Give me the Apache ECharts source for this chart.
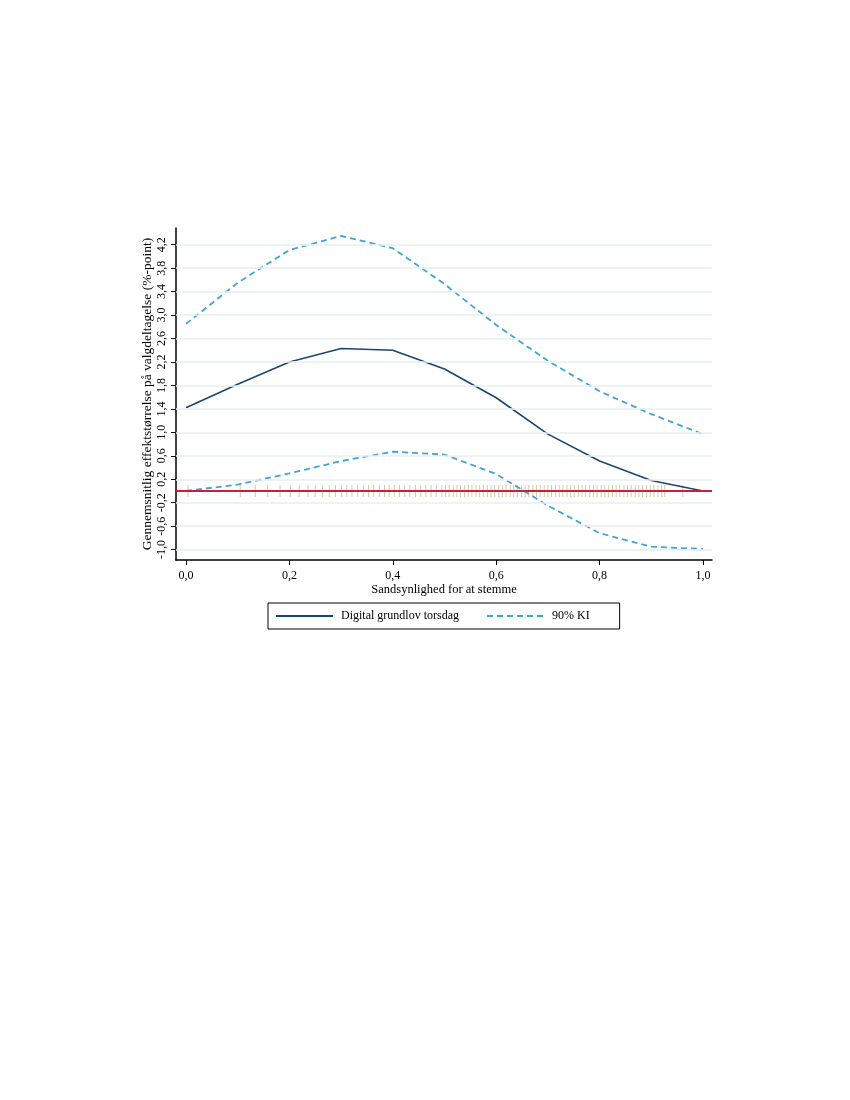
<!DOCTYPE html>
<html>
<head>
<meta charset="utf-8">
<script src="https://cdn.jsdelivr.net/npm/echarts@6/dist/echarts.min.js"></script>
<style>
html,body{margin:0;padding:0;background:#fff;}
#c{width:850px;height:1100px;}
</style>
</head>
<body>
<div id="c"></div>
<script>
// ---- data ----
const xValues = [0, 0.1, 0.2, 0.3, 0.4, 0.5, 0.6, 0.7, 0.8, 0.9, 1.0];
const effect = [1.42, 1.82, 2.20, 2.43, 2.40, 2.08, 1.59, 0.97, 0.51, 0.18, 0.00];
const upperCI = [2.85, 3.55, 4.11, 4.35, 4.14, 3.53, 2.83, 2.22, 1.70, 1.31, 0.97];
const lowerCI = [0.00, 0.11, 0.30, 0.51, 0.67, 0.62, 0.29, -0.25, -0.72, -0.95, -0.99];
const rugX = [0.004, 0.105, 0.134, 0.158, 0.182, 0.202, 0.219, 0.236, 0.250, 0.264,
  0.277, 0.289, 0.301, 0.311, 0.321, 0.332, 0.343, 0.353, 0.363, 0.374,
  0.384, 0.393, 0.403, 0.413, 0.423, 0.433, 0.444, 0.454, 0.464, 0.474,
  0.484, 0.495, 0.502, 0.509, 0.517, 0.524, 0.531, 0.539, 0.546, 0.553,
  0.561, 0.568, 0.575, 0.583, 0.590, 0.597, 0.605, 0.612, 0.619, 0.627,
  0.634, 0.641, 0.649, 0.656, 0.663, 0.671, 0.678, 0.685, 0.693, 0.700,
  0.707, 0.715, 0.722, 0.729, 0.737, 0.744, 0.751, 0.759, 0.766, 0.773,
  0.781, 0.788, 0.795, 0.803, 0.810, 0.817, 0.825, 0.832, 0.839, 0.847,
  0.854, 0.861, 0.869, 0.876, 0.883, 0.891, 0.898, 0.905, 0.913, 0.920,
  0.926, 0.961];
const xTicks = [0, 0.2, 0.4, 0.6, 0.8, 1.0];
const yTicks = [-1.0, -0.6, -0.2, 0.2, 0.6, 1.0, 1.4, 1.8, 2.2, 2.6, 3.0, 3.4, 3.8, 4.2];
const seriesNames = ['Digital grundlov torsdag', '90% KI'];
const xTitle = 'Sandsynlighed for at stemme';
const yTitle = 'Gennemsnitlig effektstørrelse på valgdeltagelse (%-point)';

// ---- chart ----
const FONT = '"Liberation Serif", "DejaVu Serif", serif';
const fmt = v => Number(v).toFixed(1).replace('.', ',');
const pair = arr => xValues.map((x, i) => [x, arr[i]]);

const chart = echarts.init(document.getElementById('c'), null, {renderer: 'canvas'});
chart.setOption({
  animation: false,
  backgroundColor: '#fff',
  grid: {left: 176, right: 138, top: 228, bottom: 540, containLabel: false},
  xAxis: {
    type: 'value', min: -0.0193, max: 1.0174,
    name: xTitle, nameLocation: 'middle', nameGap: 23,
    nameTextStyle: {fontFamily: FONT, fontSize: 12.5, color: '#000'},
    axisLine: {show: true, onZero: false, lineStyle: {color: '#000', width: 1.5}},
    axisTick: {show: true, length: 5, customValues: xTicks, lineStyle: {color: '#000', width: 1}},
    axisLabel: {customValues: xTicks, formatter: fmt, margin: 10, fontFamily: FONT, fontSize: 12, color: '#000'},
    splitLine: {show: false}
  },
  yAxis: {
    type: 'value', min: -1.177, max: 4.485,
    name: yTitle, nameLocation: 'middle', nameGap: 22, nameRotate: 90,
    nameMoveOverlap: false,
    nameTextStyle: {fontFamily: FONT, fontSize: 13.5, color: '#000'},
    axisLine: {show: true, onZero: false, lineStyle: {color: '#000', width: 1.5}},
    axisTick: {show: true, length: 5, customValues: yTicks, lineStyle: {color: '#000', width: 1}},
    axisLabel: {customValues: yTicks, formatter: fmt, rotate: 90, margin: 8, fontFamily: FONT, fontSize: 12, color: '#000'},
    splitLine: {show: false}
  },
  legend: {
    data: seriesNames,
    left: 268, top: 603,
    orient: 'horizontal',
    itemWidth: 57, itemHeight: 12, itemGap: 27,
    padding: [7, 30, 7, 7],
    borderColor: '#000', borderWidth: 1, borderRadius: 0,
    itemStyle: {opacity: 0},
    textStyle: {fontFamily: FONT, fontSize: 12, color: '#000', padding: [0, 0, 0, 3]},
    selectedMode: false
  },
  series: [
    {
      name: 'gridlines', type: 'line', data: [], z: 0, silent: true,
      markLine: {
        silent: true, symbol: ['none', 'none'], label: {show: false},
        lineStyle: {color: '#e7eff0', width: 1.6, type: 'solid'},
        data: yTicks.map(v => ({yAxis: v}))
      }
    },
    {
      name: 'rug', type: 'scatter', z: 1, silent: true,
      symbol: 'rect', symbolSize: [1, 12],
      itemStyle: {color: '#c8bd92'},
      data: rugX.map(x => [x, 0])
    },
    {
      name: 'zero', type: 'line', data: [], z: 2, silent: true,
      markLine: {
        silent: true, symbol: ['none', 'none'], label: {show: false},
        lineStyle: {color: '#c8203c', width: 2, type: 'solid'},
        data: [{yAxis: 0}]
      }
    },
    {
      name: seriesNames[0], type: 'line', z: 4, symbol: 'none',
      lineStyle: {color: '#1a476f', width: 1.6, type: 'solid'},
      itemStyle: {color: '#1a476f'},
      data: pair(effect)
    },
    {
      name: seriesNames[1], type: 'line', z: 3, symbol: 'none',
      lineStyle: {color: '#3ea6d0', width: 1.8, type: [6, 4]},
      itemStyle: {color: '#3ea6d0'},
      data: pair(upperCI)
    },
    {
      name: seriesNames[1], type: 'line', z: 3, symbol: 'none',
      lineStyle: {color: '#3ea6d0', width: 1.8, type: [6, 4]},
      itemStyle: {color: '#3ea6d0'},
      data: pair(lowerCI)
    }
  ]
});
</script>
</body>
</html>
